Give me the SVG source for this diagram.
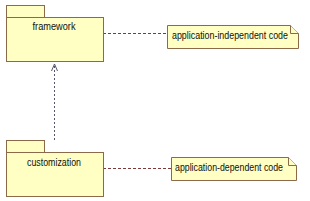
<svg xmlns="http://www.w3.org/2000/svg" width="310" height="201" viewBox="0 0 310 201">
<style>
.pkg{fill:#ffffc4;stroke:#8b6a4a;stroke-width:1}
.note{fill:#ffffc4;stroke:#8b6a4a;stroke-width:1}
.lbl{font-family:"Liberation Sans",Arial,sans-serif;font-size:10px;fill:#111}
.dash{fill:none;stroke:#7a3a3a;stroke-width:1;stroke-dasharray:3,2}
.dot{fill:none;stroke:#55556a;stroke-width:1;stroke-dasharray:2,2}
</style>
<rect width="310" height="201" fill="#ffffff"/>
<g id="connectors">
<line class="dash" x1="103" y1="33.5" x2="167" y2="33.5"/>
<line class="dash" x1="103" y1="168.5" x2="171" y2="168.5"/>
<line class="dot" x1="54.5" y1="66" x2="54.5" y2="142"/>
<polyline points="51.5,71 54.5,64 57.5,71" fill="none" stroke="#55556a" stroke-width="1"/>
</g>
<g id="framework">
<rect class="pkg" x="6.5" y="5.5" width="38" height="12"/>
<rect class="pkg" x="6.5" y="17.5" width="97" height="44"/>
<text class="lbl" x="54" y="30" text-anchor="middle" textLength="43" lengthAdjust="spacingAndGlyphs">framework</text>
</g>
<g id="customization">
<rect class="pkg" x="6.5" y="140.5" width="38" height="12"/>
<rect class="pkg" x="6.5" y="152.5" width="97" height="44"/>
<text class="lbl" x="54" y="165.5" text-anchor="middle" textLength="54" lengthAdjust="spacingAndGlyphs">customization</text>
</g>
<g id="note-independent">
<path class="note" d="M167.5,25.5 H290.5 L298.5,33.5 V48.5 H167.5 Z"/>
<path class="note" d="M290.5,25.5 V33.5 H298.5" fill="none"/>
<text class="lbl" x="172" y="38.5" textLength="116" lengthAdjust="spacingAndGlyphs">application-independent code</text>
</g>
<g id="note-dependent">
<path class="note" d="M171.5,157.5 H288.5 L296.5,165.5 V180.5 H171.5 Z"/>
<path class="note" d="M288.5,157.5 V165.5 H296.5" fill="none"/>
<text class="lbl" x="175" y="170.5" textLength="108" lengthAdjust="spacingAndGlyphs">application-dependent code</text>
</g>
</svg>
